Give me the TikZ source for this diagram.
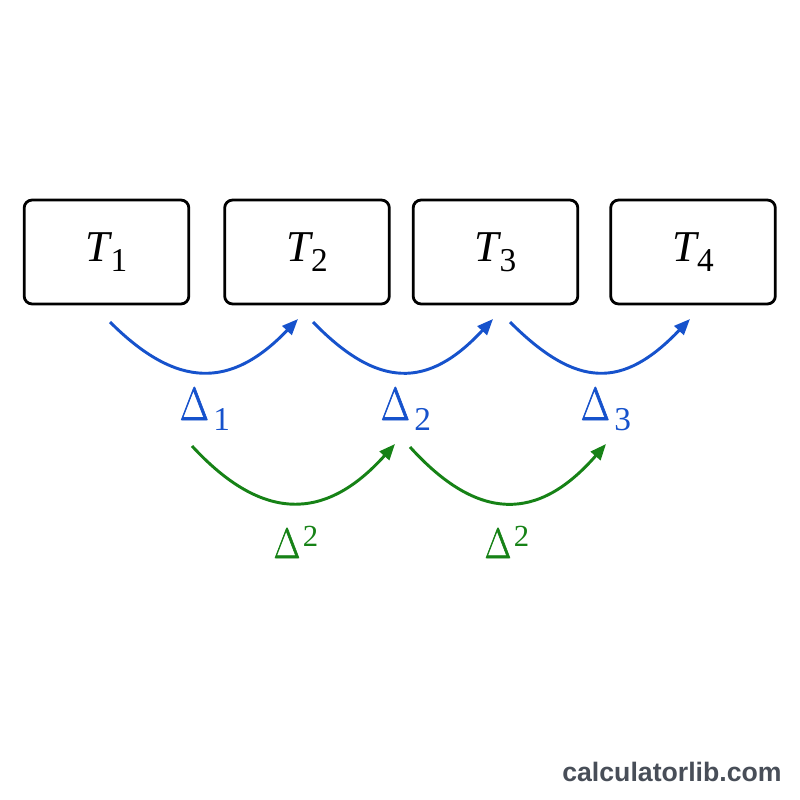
\documentclass[tikz,border=0pt]{standalone}
\usepackage{fontspec}
\usepackage{graphicx}
\setmainfont{Liberation Serif}
\newfontfamily\wmfont{Liberation Sans}
\newfontfamily\dfont[FakeBold=1.6]{Latin Modern Roman}
\usetikzlibrary{arrows.meta}
\definecolor{arcblue}{RGB}{22,82,204}
\definecolor{arcgreen}{RGB}{22,130,22}
\definecolor{wmgray}{RGB}{72,78,88}
\newcommand{\Tlab}[1]{{\fontsize{33}{36}\selectfont\itshape T\upshape\kern0.5pt\raisebox{-7.5pt}{\fontsize{25}{28}\selectfont #1}}}
\newcommand{\Dsub}[1]{{\scalebox{0.8}[1]{\dfont\fontsize{35}{38}\selectfont Δ}\kern3.5pt\raisebox{-7.5pt}{\fontsize{25}{28}\selectfont #1}}}
\newcommand{\Dsup}{{\scalebox{0.8}[1]{\dfont\fontsize{32}{35}\selectfont Δ}\kern2pt\raisebox{8.5pt}{\fontsize{23}{26}\selectfont 2}}}
\tikzset{
  tbox/.style={draw=black, line width=2.1pt, rounded corners=6pt, fill=white,
    minimum width=123.5pt, minimum height=78pt, inner sep=0pt},
  bluearc/.style={draw=arcblue, line width=2.2pt, -{Triangle[length=12pt,width=9.5pt]}},
  greenarc/.style={draw=arcgreen, line width=2.2pt, -{Triangle[length=12pt,width=9.5pt]}},
  bluelab/.style={text=arcblue, anchor=base, inner sep=0pt},
  greenlab/.style={text=arcgreen, anchor=base, inner sep=0pt}
}
\begin{document}
\begin{tikzpicture}[x=0.75pt, y=-0.75pt]
\fill[white] (0,0) rectangle (800,800);
\useasboundingbox (0,0) rectangle (800,800);

\node[tbox] (t1) at (106.5,252) {\Tlab{1}};
\node[tbox] (t2) at (307,252) {\Tlab{2}};
\node[tbox] (t3) at (495.5,252) {\Tlab{3}};
\node[tbox] (t4) at (693,252) {\Tlab{4}};

\coordinate (a1s) at (110,322);
\coordinate (a1e) at (298,319);
\coordinate (a2s) at (313,322);
\coordinate (a2e) at (493,319);
\coordinate (a3s) at (510,322);
\coordinate (a3e) at (690,319);

\draw[bluearc] (a1s) .. controls (177,389) and (231,389) .. (a1e);
\draw[bluearc] (a2s) .. controls (378,389) and (428,389) .. (a2e);
\draw[bluearc] (a3s) .. controls (577,389) and (623,389) .. (a3e);

\node[bluelab] (d1) at (205,420) {\Dsub{1}};
\node[bluelab] (d2) at (406,420) {\Dsub{2}};
\node[bluelab] (d3) at (606,420) {\Dsub{3}};

\coordinate (g1s) at (192,446);
\coordinate (g1e) at (395,444);
\coordinate (g2s) at (410,447);
\coordinate (g2e) at (606,444);

\draw[greenarc] (g1s) .. controls (262,522) and (325,522) .. (g1e);
\draw[greenarc] (g2s) .. controls (478,522) and (538,522) .. (g2e);

\node[greenlab] (s1) at (296,558) {\Dsup};
\node[greenlab] (s2) at (507,558) {\Dsup};

\node[text=wmgray, font=\wmfont\bfseries\fontsize{20}{24}\selectfont, inner sep=0pt] (wm) at (672,772) {calculatorlib.com};
\end{tikzpicture}
\end{document}
